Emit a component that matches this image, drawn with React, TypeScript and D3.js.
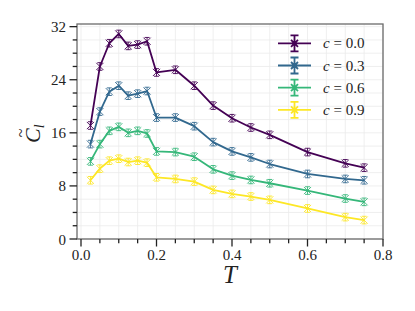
import { useEffect, useRef } from 'react';
import * as d3 from 'd3';

const T_VALUES = [0.025, 0.05, 0.075, 0.1, 0.125, 0.15, 0.175, 0.2, 0.25, 0.3, 0.35, 0.4, 0.45, 0.5, 0.6, 0.7, 0.75];

const C00 = [17.1, 26.0, 29.5, 30.9, 29.1, 29.3, 29.8, 25.1, 25.5, 23.1, 20.1, 18.2, 16.8, 15.7, 13.1, 11.4, 10.75];
const C03 = [14.3, 19.2, 22.2, 23.1, 21.6, 21.9, 22.3, 18.3, 18.3, 17.0, 14.6, 13.2, 12.3, 11.3, 9.8, 9.05, 8.85];
const C06 = [11.7, 14.3, 16.3, 16.9, 16.0, 16.3, 15.9, 13.2, 13.1, 12.4, 10.5, 9.55, 8.9, 8.4, 7.3, 6.1, 5.6];
const C09 = [8.85, 10.6, 11.8, 12.1, 11.6, 11.8, 11.5, 9.3, 9.05, 8.65, 7.4, 6.8, 6.4, 5.9, 4.6, 3.3, 2.85];

const SERIES_LABELS = ['0.0', '0.3', '0.6', '0.9'];
const SERIES_COLORS = ['#440154', '#31688e', '#35b779', '#fde725'];

const X_TICKS = [0, 0.2, 0.4, 0.6, 0.8];
const Y_TICKS = [0, 8, 16, 24, 32];

const FONT = 'Liberation Serif';

export default function App() {
  const svgRef = useRef<SVGSVGElement>(null);

  useEffect(() => {
    if (!svgRef.current) return;
    const width = 415;
    const height = 311;
    const margin = { top: 24, right: 32, bottom: 72, left: 77 };
    const w = width - margin.left - margin.right;
    const h = height - margin.top - margin.bottom;

    const svg = d3.select(svgRef.current);
    svg.selectAll('*').remove();

    const g = svg.append('g').attr('transform', `translate(${margin.left},${margin.top})`);

    const x = d3.scaleLinear().domain([-0.0106, 0.8]).range([0, w]);
    const y = d3.scaleLinear().domain([0, 32.4]).range([h, 0]);

    const xMinor = d3.range(0, 0.8001, 0.05);
    const yMinor = d3.range(0, 32.01, 2);

    // Grid
    g.append('g')
      .selectAll('line')
      .data(xMinor)
      .join('line')
      .attr('x1', d => x(d)).attr('x2', d => x(d))
      .attr('y1', 0).attr('y2', h)
      .attr('stroke', '#ebebeb')
      .attr('stroke-width', 0.8);
    g.append('g')
      .selectAll('line')
      .data(yMinor)
      .join('line')
      .attr('x1', 0).attr('x2', w)
      .attr('y1', d => y(d)).attr('y2', d => y(d))
      .attr('stroke', '#ebebeb')
      .attr('stroke-width', 0.8);

    // Series
    const allSeries = [C00, C03, C06, C09];
    const line = d3.line<number>()
      .x((_, i) => x(T_VALUES[i]))
      .y(d => y(d));

    allSeries.forEach((vals, si) => {
      const color = SERIES_COLORS[si];
      g.append('path')
        .datum(vals)
        .attr('fill', 'none')
        .attr('stroke', color)
        .attr('stroke-width', 1.8)
        .attr('stroke-linejoin', 'round')
        .attr('d', line);

      const m = g.append('g');
      vals.forEach((v, i) => {
        const cx = x(T_VALUES[i]);
        const cy = y(v);
        const r = 3.6;
        m.append('path')
          .attr('d', `M${cx - r},${cy - r}L${cx + r},${cy + r}M${cx - r},${cy + r}L${cx + r},${cy - r}` +
            `M${cx},${cy - 3.8}L${cx},${cy + 3.8}M${cx - 2.5},${cy - 3.8}L${cx + 2.5},${cy - 3.8}M${cx - 2.5},${cy + 3.8}L${cx + 2.5},${cy + 3.8}`)
          .attr('stroke', color)
          .attr('stroke-width', 0.9)
          .attr('fill', 'none');
      });
    });

    // Spines
    g.append('rect')
      .attr('x', 0).attr('y', 0)
      .attr('width', w).attr('height', h)
      .attr('fill', 'none')
      .attr('stroke', '#6b6b6b')
      .attr('stroke-width', 1.3);

    // Ticks
    const tickColor = '#222';
    g.append('g')
      .selectAll('line')
      .data(xMinor)
      .join('line')
      .attr('x1', d => x(d)).attr('x2', d => x(d))
      .attr('y1', h).attr('y2', d => h + (X_TICKS.some(t => Math.abs(t - d) < 1e-6) ? 7.5 : 4.3))
      .attr('stroke', tickColor)
      .attr('stroke-width', 1.3);
    g.append('g')
      .selectAll('line')
      .data(yMinor)
      .join('line')
      .attr('y1', d => y(d)).attr('y2', d => y(d))
      .attr('x1', 0).attr('x2', d => -(Y_TICKS.includes(d) ? 7.5 : 4.3))
      .attr('stroke', tickColor)
      .attr('stroke-width', 1.3);

    // Tick labels
    g.append('g')
      .selectAll('text')
      .data(X_TICKS)
      .join('text')
      .attr('x', d => x(d))
      .attr('y', h + 21)
      .attr('text-anchor', 'middle')
      .style('font-family', FONT)
      .attr('font-size', '15px')
      .attr('fill', '#222')
      .text(d => d.toFixed(1));
    g.append('g')
      .selectAll('text')
      .data(Y_TICKS)
      .join('text')
      .attr('x', -11)
      .attr('y', d => y(d) + 5.5)
      .attr('text-anchor', 'end')
      .style('font-family', FONT)
      .attr('font-size', '15px')
      .attr('fill', '#222')
      .text(d => String(d));

    // Axis labels
    svg.append('text')
      .attr('x', margin.left + w / 2)
      .attr('y', 283)
      .attr('text-anchor', 'middle')
      .style('font-family', FONT)
      .attr('font-style', 'italic')
      .attr('font-size', '25px')
      .attr('fill', '#222')
      .text('T');

    const yl = svg.append('g').attr('transform', 'translate(40,143) rotate(-90)');
    const yt = yl.append('text')
      .attr('x', 0).attr('y', 0)
      .style('font-family', FONT)
      .attr('font-style', 'italic')
      .attr('font-size', '22px')
      .attr('fill', '#222');
    yt.append('tspan').text('C');
    yt.append('tspan').attr('font-size', '14px').attr('dy', 4).attr('dx', 0).text('l');
    yl.append('text')
      .attr('x', 10).attr('y', -14)
      .attr('text-anchor', 'middle')
      .style('font-family', FONT)
      .attr('font-size', '16px')
      .attr('fill', '#222')
      .text('~');

    // Legend
    const legend = svg.append('g');
    SERIES_LABELS.forEach((label, i) => {
      const ly = 43.3 + i * 22.2;
      const color = SERIES_COLORS[i];
      const x0 = 278, x1 = 311, xc = (x0 + x1) / 2;
      legend.append('path')
        .attr('d', `M${x0},${ly}L${x1},${ly}M${xc},${ly - 8}L${xc},${ly + 8}M${xc - 4},${ly - 8}L${xc + 4},${ly - 8}M${xc - 4},${ly + 8}L${xc + 4},${ly + 8}` +
          `M${xc - 3.5},${ly - 3.5}L${xc + 3.5},${ly + 3.5}M${xc - 3.5},${ly + 3.5}L${xc + 3.5},${ly - 3.5}`)
        .attr('stroke', color)
        .attr('stroke-width', 1.8)
        .attr('fill', 'none');
      const t = legend.append('text')
        .attr('x', 323)
        .attr('y', ly + 5)
        .style('font-family', FONT)
        .attr('font-size', '15px')
        .attr('fill', '#222');
      t.append('tspan').attr('font-style', 'italic').text('c');
      t.append('tspan').text(` = ${label}`);
    });
  }, []);

  return (
    <svg
      ref={svgRef}
      width={415}
      height={311}
      style={{ position: 'absolute', left: 0, top: 0, background: '#fff' }}
    />
  );
}
